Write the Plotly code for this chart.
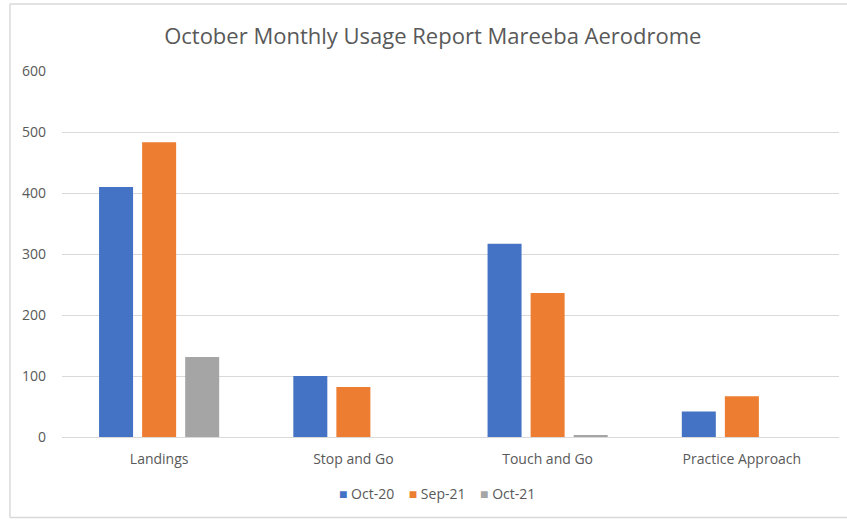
import plotly.graph_objects as go

# chart data
categories = ['Landings', 'Stop and Go', 'Touch and Go', 'Practice Approach']
oct_20 = [410, 100, 317, 42]
sep_21 = [483, 82, 236, 67]
oct_21 = [131, 0, 3, 0]

series = [
    ('Oct-20', oct_20, '#4472C4'),
    ('Sep-21', sep_21, '#ED7D31'),
    ('Oct-21', oct_21, '#A5A5A5'),
]

fig = go.Figure()
for name, vals, colour in series:
    fig.add_trace(go.Bar(x=categories, y=vals, name=name, marker_color=colour,
                         marker_line_width=0, showlegend=False))

# compact legend like the excel one: small coloured squares then the name
legend_text = '&nbsp;&nbsp;&nbsp;&nbsp;'.join(
    f'<span style="color:{colour}">■</span> {name}' for name, _, colour in series
)
fig.add_annotation(text=legend_text, xref='paper', yref='paper',
                   x=0.4826, y=-0.154, xanchor='center', yanchor='middle',
                   showarrow=False, font=dict(size=14, color='#595959'))

# light frame around the whole chart (top, left, bottom)
frame = dict(type='line', xref='paper', yref='paper',
             line=dict(color='#d9d9d9', width=1.5))
fig.add_shape(frame, x0=-0.067, x1=1.02, y0=1.183, y1=1.183)
fig.add_shape(frame, x0=-0.067, x1=-0.067, y0=1.183, y1=-0.22)
fig.add_shape(frame, x0=-0.067, x1=1.02, y0=-0.22, y1=-0.22)

fig.update_layout(
    width=847, height=520,
    template='plotly_white',
    font=dict(family='Open Sans', color='#595959', size=13),
    title=dict(text='October Monthly Usage Report Mareeba Aerodrome',
               x=0.511, xanchor='center', y=0.93, yanchor='middle',
               font=dict(size=22, color='#595959')),
    barmode='group', bargap=0.335, bargroupgap=0.21,
    margin=dict(l=62, r=8, t=71, b=82.5),
    plot_bgcolor='white', paper_bgcolor='white',
)
fig.update_yaxes(range=[0, 600], dtick=100, gridcolor='#d9d9d9', gridwidth=1,
                 zeroline=True, zerolinecolor='#d9d9d9', zerolinewidth=1,
                 ticks='', ticklabelstandoff=15, showline=False,
                 tickfont=dict(size=14))
fig.update_xaxes(showgrid=False, ticks='', ticklabelstandoff=12,
                 tickfont=dict(size=14))

# drop the browser's default page margin so the figure sits at 0,0
fig.write_html('out.html', config={'displayModeBar': False},
               post_script="document.body.style.margin='0';")
